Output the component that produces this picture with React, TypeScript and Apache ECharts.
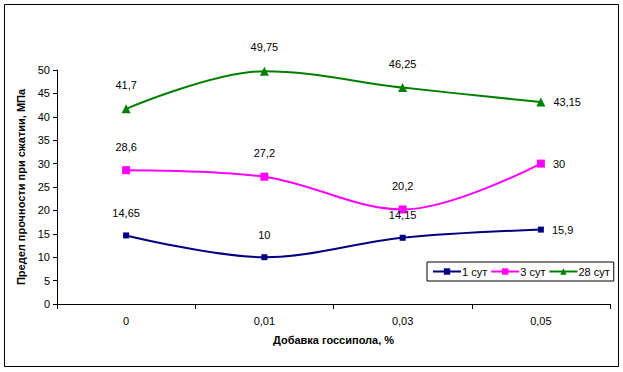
import React, { useEffect, useRef } from "react";
import * as echarts from "echarts";

const categories = ["0", "0,01", "0,03", "0,05"];
const day1 = [14.65, 10, 14.15, 15.9];
const day3 = [28.6, 27.2, 20.2, 30];
const day28 = [41.7, 49.75, 46.25, 43.15];
const seriesNames = ["1 сут", "3 сут", "28 сут"];
const yTitle = "Предел прочности при сжатии, МПа";
const xTitle = "Добавка госсипола, %";

const FONT = "'Liberation Sans', Arial, sans-serif";
const fmt = (v: number) => String(v).replace(".", ",");

function mkData(vals: number[]) {
  return vals.map((v, i) => ({
    value: v,
    label:
      i === vals.length - 1
        ? { position: "right" as const, distance: 8 }
        : { position: "top" as const, distance: 14 },
  }));
}

export default function App() {
  const ref = useRef<HTMLDivElement>(null);
  useEffect(() => {
    if (!ref.current) return;
    const chart = echarts.init(ref.current, undefined, { renderer: "svg" });
    const labelCommon = {
      show: true,
      color: "#000",
      fontSize: 11,
      fontFamily: FONT,
      formatter: (p: any) => fmt(p.value),
    };
    chart.setOption({
      animation: false,
      backgroundColor: "#fff",
      textStyle: { fontFamily: FONT },
      graphic: [
        {
          type: "rect",
          shape: { x: 4.5, y: 4.5, width: 614, height: 362 },
          style: { fill: "none", stroke: "#000", lineWidth: 1 },
          silent: true,
        },
      ],
      grid: { left: 57, right: 13, top: 70, bottom: 68 },
      legend: {
        left: 427,
        top: 262,
        orient: "horizontal",
        borderColor: "#000",
        borderWidth: 1,
        padding: [4, 4, 4, 5],
        itemGap: 3,
        itemWidth: 28,
        itemHeight: 8,
        textStyle: { fontSize: 11, fontFamily: FONT, color: "#000", padding: [0, 0, 0, -4] },
        data: seriesNames,
      },
      xAxis: {
        type: "category",
        data: categories,
        boundaryGap: true,
        name: xTitle,
        nameLocation: "middle",
        nameGap: 30,
        nameTextStyle: { fontSize: 11, fontWeight: "bold", color: "#000", fontFamily: FONT },
        axisLine: { lineStyle: { color: "#000", width: 1 } },
        axisTick: { show: true, length: 5, lineStyle: { color: "#000" } },
        axisLabel: { fontSize: 11, color: "#000", margin: 11, fontFamily: FONT },
        splitLine: { show: false },
      },
      yAxis: {
        type: "value",
        min: 0,
        max: 50,
        interval: 5,
        name: yTitle,
        nameLocation: "middle",
        nameGap: 30,
        nameTextStyle: { fontSize: 11, fontWeight: "bold", color: "#000", fontFamily: FONT },
        axisLine: { show: true, lineStyle: { color: "#000", width: 1 } },
        axisTick: { show: true, length: 4, lineStyle: { color: "#000" } },
        axisLabel: { fontSize: 11, color: "#000", margin: 7, fontFamily: FONT },
        splitLine: { show: false },
      },
      series: [
        {
          name: seriesNames[0],
          type: "line",
          smooth: 0.35,
          data: mkData(day1),
          symbol: "rect",
          symbolSize: 6,
          itemStyle: { color: "#000080" },
          lineStyle: { color: "#000080", width: 2 },
          label: labelCommon,
        },
        {
          name: seriesNames[1],
          type: "line",
          smooth: 0.35,
          data: mkData(day3),
          symbol: "rect",
          symbolSize: 8,
          itemStyle: { color: "#FF00FF" },
          lineStyle: { color: "#FF00FF", width: 2 },
          label: labelCommon,
        },
        {
          name: seriesNames[2],
          type: "line",
          smooth: 0.35,
          data: mkData(day28),
          symbol: "triangle",
          symbolSize: 9,
          itemStyle: { color: "#008000" },
          lineStyle: { color: "#008000", width: 2 },
          label: labelCommon,
        },
      ],
    });
    return () => chart.dispose();
  }, []);
  return <div ref={ref} style={{ width: 623, height: 372, position: "absolute", left: 0, top: 0 }} />;
}
